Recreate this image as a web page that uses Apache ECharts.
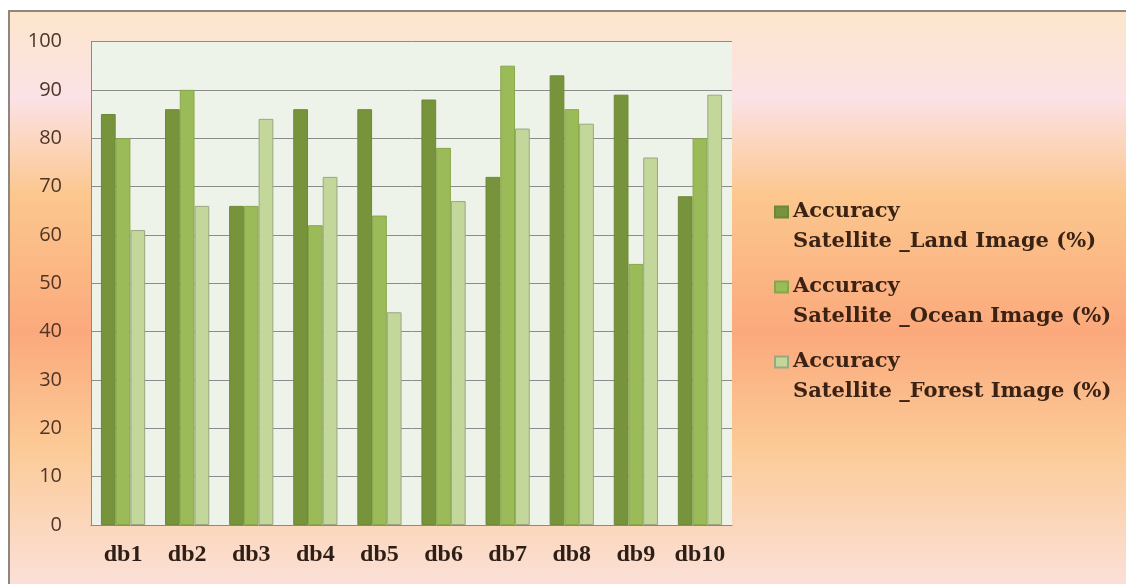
<!DOCTYPE html>
<html>
<head>
<meta charset="utf-8">
<script src="https://cdn.jsdelivr.net/npm/echarts@6/dist/echarts.min.js"></script>
<style>
html,body{margin:0;padding:0;background:#ffffff;width:1126px;height:584px;overflow:hidden;}
#chart{position:absolute;left:8px;top:10px;width:1116px;height:572px;border-left:2px solid #8f877e;border-top:2px solid #8f877e;}
</style>
</head>
<body>
<div id="chart"></div>
<script>
var categories = ['db1','db2','db3','db4','db5','db6','db7','db8','db9','db10'];
var seriesNames = [
  'Accuracy\nSatellite _Land Image (%)',
  'Accuracy\nSatellite _Ocean Image (%)',
  'Accuracy\nSatellite _Forest Image (%)'
];
var landValues   = [85, 86, 66, 86, 86, 88, 72, 93, 89, 68];
var oceanValues  = [80, 90, 66, 62, 64, 78, 95, 86, 54, 80];
var forestValues = [61, 66, 84, 72, 44, 67, 82, 83, 76, 89];
var yTicks = [0,10,20,30,40,50,60,70,80,90,100];

var colors = ['#77933c', '#9bbb59', '#c4d79b'];
var borders = ['#6d8836', '#89a64b', '#97a882'];
var dataSets = [landValues, oceanValues, forestValues];

var chart = echarts.init(document.getElementById('chart'), null, {renderer:'canvas'});
var series = dataSets.map(function(d, i){
  return {
    name: seriesNames[i],
    type: 'bar',
    data: d,
    barGap: '0%',
    barCategoryGap: '31%',
    itemStyle: {color: colors[i], borderColor: borders[i], borderWidth: 1},
    emphasis: {disabled: true}
  };
});

chart.setOption({
  animation: false,
  backgroundColor: new echarts.graphic.LinearGradient(0,0,0,1,[
    {offset:0, color:'#fce6cb'},
    {offset:0.15, color:'#fbe2e6'},
    {offset:0.32, color:'#fcc78e'},
    {offset:0.56, color:'#fba97c'},
    {offset:0.76, color:'#fcca96'},
    {offset:1, color:'#fbe0d8'}
  ]),
  grid: {left: 81, top: 29.5, right: 394, bottom: 59, show: true, backgroundColor: '#eef3e9', borderWidth: 0},
  legend: {
    orient: 'vertical',
    left: 759,
    top: 150,
    itemWidth: 13,
    itemHeight: 11,
    itemGap: -15,
    icon: 'rect',
    selectedMode: false,
    data: seriesNames,
    formatter: function(name){ return ' \n' + name; },
    textStyle: {
      fontFamily: 'DejaVu Serif',
      fontWeight: 'bold',
      fontSize: 21,
      lineHeight: 30,
      color: '#3a2214'
    }
  },
  xAxis: {
    type: 'category',
    data: categories,
    axisLine: {show: true, lineStyle: {color: '#8a8a84', width: 1}},
    axisTick: {show: false},
    axisLabel: {
      interval: 0,
      margin: 18,
      fontFamily: 'Liberation Serif',
      fontWeight: 'bold',
      fontSize: 24,
      color: '#2e1f16'
    }
  },
  yAxis: {
    type: 'value',
    min: 0,
    max: 100,
    interval: 10,
    axisLine: {show: true, lineStyle: {color: '#8a8a84', width: 1}},
    axisTick: {show: false},
    splitLine: {show: true, lineStyle: {color: '#8c8c8c', width: 1}},
    axisLabel: {
      margin: 29,
      fontFamily: 'Open Sans',
      fontSize: 20,
      color: '#4e3526',
      formatter: function(v){ return yTicks.indexOf(v) >= 0 ? String(v) : ''; }
    }
  },
  series: series
});
</script>
</body>
</html>
